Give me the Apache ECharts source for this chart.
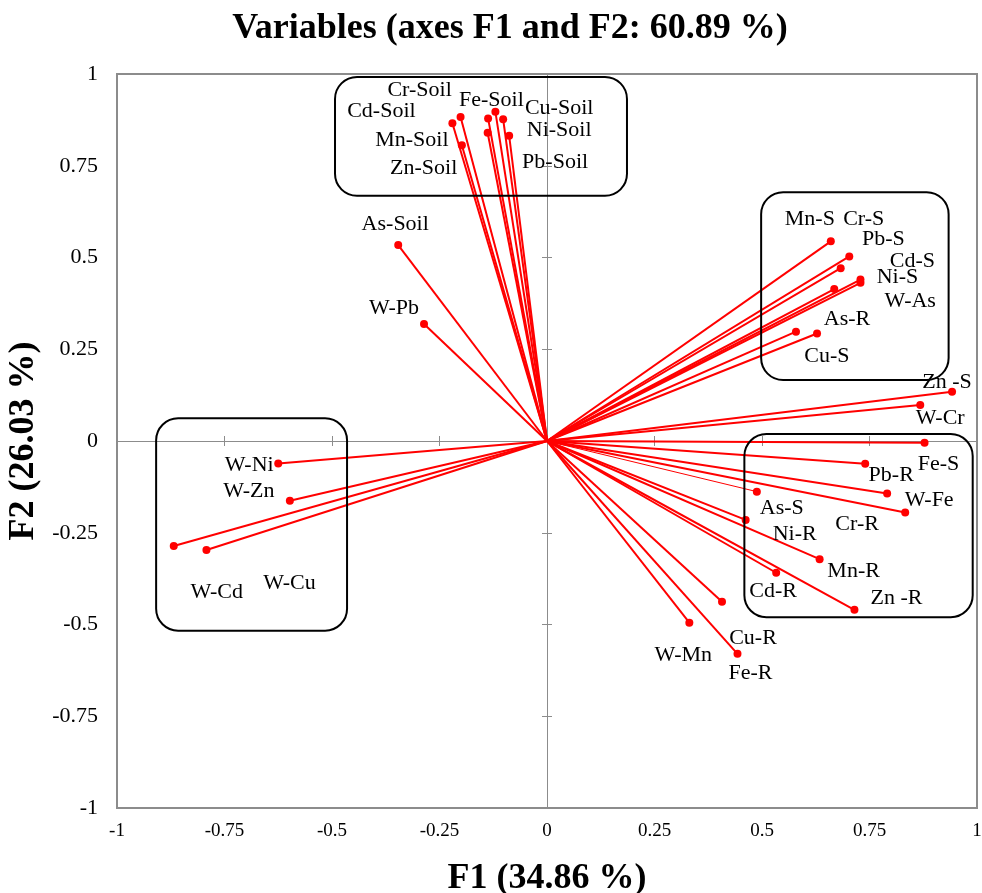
<!DOCTYPE html>
<html>
<head>
    <meta charset="UTF-8">
    <title>Variables (axes F1 and F2)</title>
    <script src="https://cdn.jsdelivr.net/npm/echarts@6/dist/echarts.min.js"></script>
    <style>
        html, body {margin: 0; padding: 0; background: #fff;}
    </style>
</head>
<body>
<div id="main" style="width: 982px;height:893px;"></div>

<script>
    // variable names and loadings on F1 / F2
    var names = ['Cd-Soil', 'Cr-Soil', 'Mn-Soil', 'Zn-Soil', 'Pb-Soil', 'Fe-Soil', 'Cu-Soil', 'Ni-Soil',
        'As-Soil', 'W-Pb',
        'Mn-S', 'Pb-S', 'Cr-S', 'Cd-S', 'Ni-S', 'W-As', 'As-R', 'Cu-S',
        'Zn -S', 'W-Cr',
        'Fe-S', 'Pb-R', 'Cr-R', 'W-Fe', 'As-S', 'Ni-R', 'Mn-R', 'Cd-R', 'Zn -R',
        'Cu-R', 'W-Mn', 'Fe-R',
        'W-Ni', 'W-Zn', 'W-Cd', 'W-Cu'];
    var f1 = [-0.220, -0.201, -0.198, -0.138, -0.137, -0.120, -0.102, -0.088,
        -0.346, -0.286,
        0.660, 0.703, 0.683, 0.729, 0.729, 0.668, 0.628, 0.579,
        0.942, 0.868,
        0.878, 0.740, 0.791, 0.833, 0.488, 0.462, 0.634, 0.533, 0.715,
        0.407, 0.331, 0.443,
        -0.625, -0.598, -0.868, -0.792];
    var f2 = [0.866, 0.883, 0.806, 0.840, 0.879, 0.897, 0.877, 0.832,
        0.534, 0.319,
        0.544, 0.503, 0.471, 0.440, 0.431, 0.414, 0.293, 0.298,
        0.134, 0.098,
        -0.005, -0.062, -0.143, -0.195, -0.138, -0.215, -0.322, -0.359, -0.460,
        -0.438, -0.495, -0.580,
        -0.061, -0.163, -0.286, -0.297];

    // label placement (px, from the point)
    var labelOffsets = {
        'Cd-Soil': [-71, -12], 'Cr-Soil': [-41, -27], 'Mn-Soil': [-50, -5], 'Zn-Soil': [-64, 35],
        'Pb-Soil': [67, 44], 'Fe-Soil': [-4, -12], 'Cu-Soil': [56, -11], 'Ni-Soil': [50, -5],
        'As-Soil': [-3, -21], 'W-Pb': [-30, -16],
        'Mn-S': [-21, -22], 'Pb-S': [34, -17], 'Cr-S': [23, -49], 'Cd-S': [52, -18],
        'Ni-S': [37, -6], 'W-As': [76, 12], 'As-R': [30, -14], 'Cu-S': [31, 25],
        'Zn -S': [-5, -10], 'W-Cr': [20, 13],
        'Fe-S': [14, 21], 'Pb-R': [26, 11], 'Cr-R': [-30, 31], 'W-Fe': [24, -12],
        'As-S': [25, 17], 'Ni-R': [49, 14], 'Mn-R': [34, 12], 'Cd-R': [-3, 18], 'Zn -R': [42, -12],
        'Cu-R': [31, 36], 'W-Mn': [-6, 33], 'Fe-R': [13, 19],
        'W-Ni': [-29, 2], 'W-Zn': [-41, -10], 'W-Cd': [43, 46], 'W-Cu': [83, 33]
    };
    var thinLines = ['As-S'];

    // grouping boxes in axis units: [x1, y1, x2, y2]
    var boxes = [
        [-0.493, 0.992, 0.186, 0.668],
        [0.498, 0.678, 0.934, 0.166],
        [0.459, 0.019, 0.990, -0.480],
        [-0.909, 0.062, -0.465, -0.517]
    ];

    var FONT = '"Times New Roman", "Liberation Serif", serif';
    var GRAY = '#8c8c8c';

    var myChart = echarts.init(document.getElementById('main'));

    var lineData = names.map(function (n, i) {
        return {
            coords: [[0, 0], [f1[i], f2[i]]],
            lineStyle: {width: thinLines.indexOf(n) >= 0 ? 1 : 2}
        };
    });
    var pointData = names.map(function (n, i) {
        return {
            name: n,
            value: [f1[i], f2[i]],
            label: {offset: labelOffsets[n]}
        };
    });

    function valueAxis(extra) {
        var a = {
            type: 'value', min: -1, max: 1, interval: 0.25,
            splitLine: {show: false},
            axisLine: {show: false, onZero: false},
            axisTick: {show: false},
            axisLabel: {show: false}
        };
        for (var k in extra) a[k] = extra[k];
        return a;
    }

    var option = {
        backgroundColor: '#fff',
        animation: false,
        title: {
            text: 'Variables (axes F1 and F2: 60.89 %)',
            left: 505,
            textAlign: 'center',
            top: 6,
            textStyle: {fontFamily: FONT, fontSize: 36, fontWeight: 'bold', color: '#000'}
        },
        grid: {
            left: 117, right: 5, top: 74, bottom: 85,
            outerBoundsMode: 'none',
            containLabel: false,
            show: true, borderColor: GRAY, borderWidth: 2
        },
        xAxis: [
            valueAxis({
                position: 'bottom',
                axisLabel: {show: true, margin: 14, fontFamily: FONT, fontSize: 19, color: '#000'},
                name: 'F1 (34.86 %)',
                nameLocation: 'middle',
                nameGap: 53,
                nameTextStyle: {fontFamily: FONT, fontSize: 36, fontWeight: 'bold', color: '#000'}
            }),
            valueAxis({
                axisLine: {show: true, onZero: true, lineStyle: {color: GRAY, width: 1}},
                axisTick: {show: true, inside: false, length: 5, lineStyle: {color: GRAY}}
            }),
            valueAxis({
                axisLine: {show: true, onZero: true, lineStyle: {color: GRAY, width: 1, opacity: 0}},
                axisTick: {show: true, inside: true, length: 5, lineStyle: {color: GRAY}}
            })
        ],
        yAxis: [
            valueAxis({
                position: 'left',
                axisLabel: {show: true, margin: 19, fontFamily: FONT, fontSize: 22, color: '#000'},
                name: 'F2 (26.03 %)',
                nameLocation: 'middle',
                nameGap: 71,
                nameTextStyle: {fontFamily: FONT, fontSize: 36, fontWeight: 'bold', color: '#000'}
            }),
            valueAxis({
                axisLine: {show: true, onZero: true, lineStyle: {color: GRAY, width: 1}},
                axisTick: {show: true, inside: false, length: 5, lineStyle: {color: GRAY}}
            }),
            valueAxis({
                axisLine: {show: true, onZero: true, lineStyle: {color: GRAY, width: 1, opacity: 0}},
                axisTick: {show: true, inside: true, length: 5, lineStyle: {color: GRAY}}
            })
        ],
        series: [
            {
                type: 'lines',
                coordinateSystem: 'cartesian2d',
                xAxisIndex: 0, yAxisIndex: 0,
                data: lineData,
                lineStyle: {color: '#ff0000', width: 2, opacity: 1},
                silent: true,
                z: 3
            },
            {
                type: 'scatter',
                xAxisIndex: 0, yAxisIndex: 0,
                data: pointData,
                symbolSize: 8,
                itemStyle: {color: '#ff0000', opacity: 1},
                label: {
                    show: true,
                    position: 'inside',
                    formatter: '{b}',
                    fontFamily: FONT,
                    fontSize: 22,
                    color: '#000'
                },
                z: 4
            }
        ]
    };

    myChart.setOption(option);

    // rounded boxes around the groups
    var graphics = boxes.map(function (b) {
        var p1 = myChart.convertToPixel({xAxisIndex: 0, yAxisIndex: 0}, [b[0], b[1]]);
        var p2 = myChart.convertToPixel({xAxisIndex: 0, yAxisIndex: 0}, [b[2], b[3]]);
        return {
            type: 'rect',
            z: 10,
            shape: {x: p1[0], y: p1[1], width: p2[0] - p1[0], height: p2[1] - p1[1], r: 22},
            style: {fill: 'none', stroke: '#000', lineWidth: 2}
        };
    });
    myChart.setOption({graphic: graphics});
</script>

</body>
</html>
